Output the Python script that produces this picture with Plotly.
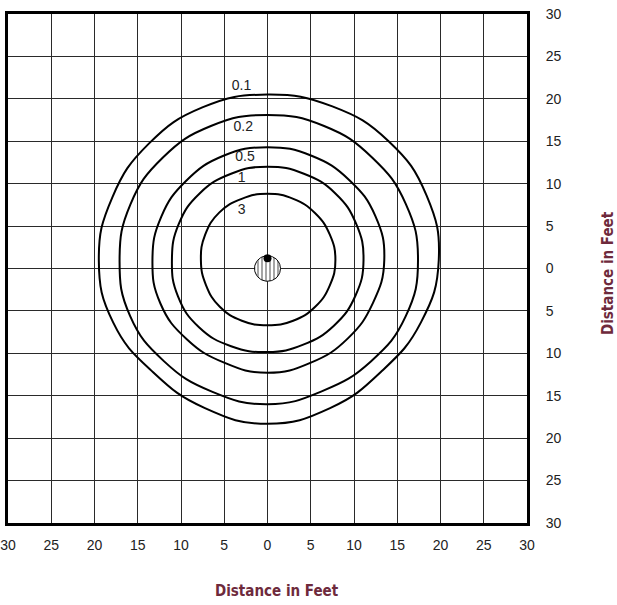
import numpy as np
import plotly.graph_objects as go

# ---- data (feet) ----
levels = ["0.1", "0.2", "0.5", "1", "3"]

# contour radii (feet) read off the chart, measured from the pattern centre,
# at angles 0, 22.5, 45, ... 337.5 degrees (counter-clockwise from +x)
angles_deg = [0, 22.5, 45, 67.5, 90, 112.5, 135, 157.5, 180, 202.5, 225, 247.5, 270, 292.5, 315, 337.5]
pattern_center_x = 0.0
pattern_center_y = 1.0

r_01 = [19.8, 19.9, 19.8, 19.6, 19.5, 19.5, 19.4, 19.4, 19.5, 19.3, 18.7, 18.9, 19.3, 18.9, 18.6, 19.2]
r_02 = [17.4, 17.3, 17.1, 17.1, 17.1, 17.1, 17.1, 17.15, 17.1, 17.2, 16.9, 16.8, 17.0, 16.7, 16.9, 17.3]
r_05 = [13.5, 13.5, 13.35, 13.3, 13.3, 13.3, 13.25, 13.3, 13.3, 13.4, 13.2, 13.1, 13.3, 13.1, 13.1, 13.2]
r_1 = [11.1, 11.1, 11.1, 11.0, 11.0, 11.0, 11.1, 11.1, 11.05, 11.2, 11.2, 11.0, 10.85, 10.8, 10.9, 11.0]
r_3 = [7.85, 7.8, 7.8, 7.8, 7.8, 7.8, 7.9, 7.8, 7.7, 7.7, 7.8, 7.75, 7.7, 7.75, 7.8, 7.8]

label_x = [-3.0, -2.8, -2.6, -3.0, -3.0]
label_y = [21.4, 16.6, 13.1, 10.6, 6.8]

fixture_x = [0]
fixture_y = [0]
fixture_r = [1.5]
lamp_x = [0]
lamp_y = [1.2]

tick_vals = list(range(-30, 31, 5))
tick_text = [str(abs(v)) for v in tick_vals]

# ---- figure ----
fig = go.Figure()

theta = np.radians(angles_deg + [angles_deg[0]])
for name, radii in zip(levels, [r_01, r_02, r_05, r_1, r_3]):
    rr = np.array(radii + [radii[0]])
    cx = pattern_center_x + rr * np.cos(theta)
    cy = pattern_center_y + rr * np.sin(theta)
    fig.add_trace(go.Scatter(x=cx, y=cy, mode="lines", name=name,
                             line=dict(color="black", width=2, shape="spline", smoothing=1.3),
                             hoverinfo="skip", showlegend=False))

# hatched fixture symbol
t = np.linspace(0, 2 * np.pi, 60)
fx = fixture_x[0] + fixture_r[0] * np.cos(t)
fy = fixture_y[0] + fixture_r[0] * np.sin(t)
fig.add_trace(go.Scatter(x=fx, y=fy, mode="lines", fill="toself",
                         fillcolor="white",
                         fillpattern=dict(shape="|", fgcolor="black", bgcolor="white", size=4, solidity=0.35),
                         line=dict(color="black", width=1), showlegend=False, hoverinfo="skip"))
fig.add_trace(go.Scatter(x=lamp_x, y=lamp_y, mode="markers",
                         marker=dict(color="black", size=8, symbol="circle"),
                         showlegend=False, hoverinfo="skip"))

# contour labels
fig.add_trace(go.Scatter(x=label_x, y=label_y, mode="text", text=levels,
                         textfont=dict(family="Liberation Sans, Arial, sans-serif", size=14, color="#222"),
                         showlegend=False, hoverinfo="skip"))

axis_common = dict(range=[-30, 30], tickmode="array", tickvals=tick_vals, ticktext=tick_text,
                   showgrid=True, gridcolor="#2a2a2a", gridwidth=1, zeroline=False,
                   showline=True, linecolor="black", linewidth=3, mirror=True, automargin=False,
                   ticks="", tickfont=dict(family="Liberation Sans, Arial, sans-serif", size=14, color="#222"))

title_font = dict(family="DejaVu Sans Condensed, Liberation Sans Narrow, sans-serif",
                  size=15, color="#6e2a3c", weight="bold")

fig.update_layout(
    width=617, height=605,
    margin=dict(l=8, r=90, t=14, b=82),
    paper_bgcolor="white", plot_bgcolor="white",
    xaxis=dict(**axis_common, ticklabelstandoff=7),
    yaxis=dict(**axis_common, side="right", ticklabelstandoff=13),
    annotations=[
        dict(text="Distance in Feet", xref="paper", yref="paper", x=(277 - 8) / 519, y=-(591 - 523) / 509,
             xanchor="center", yanchor="middle", showarrow=False, font=title_font),
        dict(text="Distance in Feet", xref="paper", yref="paper", x=1 + (608 - 527) / 519, y=(523 - 273) / 509,
             xanchor="center", yanchor="middle", showarrow=False, textangle=-90, font=title_font),
    ],
)

# remove the browser's default 8px page margin so the figure sits at the window's corner
fig.write_html("out.html", config={"displayModeBar": False},
               post_script="document.body.style.margin='0px';")
